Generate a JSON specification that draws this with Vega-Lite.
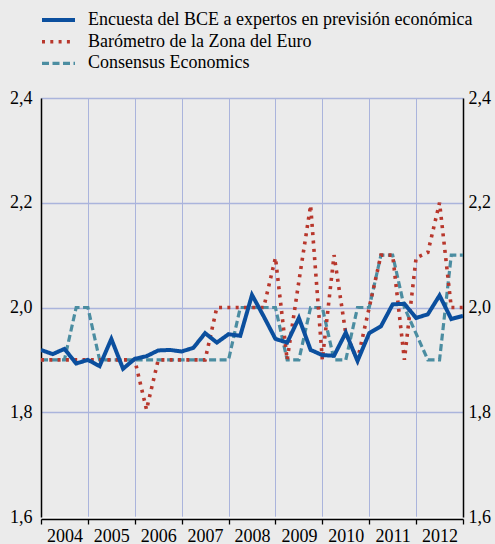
{
  "$schema": "https://vega.github.io/schema/vega-lite/v6.json",
  "width": 422,
  "height": 419,
  "autosize": {"type": "none"},
  "padding": {"left": 41, "top": 98, "right": 32, "bottom": 27},
  "background": "#ebebeb",
  "config": {
    "view": {"stroke": null, "fill": "#ebebeb"},
    "font": "Liberation Serif"
  },
  "data": {
    "values": [
      {"t": 2004.0, "bce": 1.919, "bar": 1.9, "con": 1.9},
      {"t": 2004.25, "bce": 1.911, "bar": 1.9, "con": 1.9},
      {"t": 2004.5, "bce": 1.921, "bar": 1.9, "con": 1.9},
      {"t": 2004.75, "bce": 1.893, "bar": 1.9, "con": 2.0},
      {"t": 2005.0, "bce": 1.900, "bar": 1.9, "con": 2.0},
      {"t": 2005.25, "bce": 1.888, "bar": 1.9, "con": 1.9},
      {"t": 2005.5, "bce": 1.940, "bar": 1.9, "con": 1.9},
      {"t": 2005.75, "bce": 1.883, "bar": 1.9, "con": 1.9},
      {"t": 2006.0, "bce": 1.902, "bar": 1.9, "con": 1.9},
      {"t": 2006.25, "bce": 1.907, "bar": 1.805, "con": 1.9},
      {"t": 2006.5, "bce": 1.918, "bar": 1.9, "con": 1.9},
      {"t": 2006.75, "bce": 1.919, "bar": 1.9, "con": 1.9},
      {"t": 2007.0, "bce": 1.916, "bar": 1.9, "con": 1.9},
      {"t": 2007.25, "bce": 1.923, "bar": 1.9, "con": 1.9},
      {"t": 2007.5, "bce": 1.951, "bar": 1.9, "con": 1.9},
      {"t": 2007.75, "bce": 1.933, "bar": 2.0, "con": 1.9},
      {"t": 2008.0, "bce": 1.949, "bar": 2.0, "con": 1.9},
      {"t": 2008.25, "bce": 1.946, "bar": 2.0, "con": 2.0},
      {"t": 2008.5, "bce": 2.024, "bar": 2.0, "con": 2.0},
      {"t": 2008.75, "bce": 1.983, "bar": 2.0, "con": 2.0},
      {"t": 2009.0, "bce": 1.940, "bar": 2.095, "con": 2.0},
      {"t": 2009.25, "bce": 1.933, "bar": 1.9, "con": 1.9},
      {"t": 2009.5, "bce": 1.980, "bar": 2.05, "con": 1.9},
      {"t": 2009.75, "bce": 1.919, "bar": 2.195, "con": 2.0},
      {"t": 2010.0, "bce": 1.909, "bar": 1.9, "con": 2.0},
      {"t": 2010.25, "bce": 1.908, "bar": 2.1, "con": 1.9},
      {"t": 2010.5, "bce": 1.952, "bar": 1.95, "con": 1.9},
      {"t": 2010.75, "bce": 1.898, "bar": 1.9, "con": 2.0},
      {"t": 2011.0, "bce": 1.951, "bar": 2.0, "con": 2.0},
      {"t": 2011.25, "bce": 1.964, "bar": 2.1, "con": 2.1},
      {"t": 2011.5, "bce": 2.006, "bar": 2.1, "con": 2.1},
      {"t": 2011.75, "bce": 2.007, "bar": 1.9, "con": 2.0},
      {"t": 2012.0, "bce": 1.980, "bar": 2.095, "con": 1.95},
      {"t": 2012.25, "bce": 1.987, "bar": 2.105, "con": 1.9},
      {"t": 2012.5, "bce": 2.023, "bar": 2.2, "con": 1.9},
      {"t": 2012.75, "bce": 1.978, "bar": 2.0, "con": 2.1},
      {"t": 2013.0, "bce": 1.984, "bar": 2.0, "con": 2.1}
    ]
  },
  "transform": [
    {"fold": ["con", "bar", "bce"], "as": ["serie", "valor"]}
  ],
  "encoding": {
    "x": {
      "field": "t",
      "type": "quantitative",
      "scale": {"domain": [2004, 2013], "nice": false, "zero": false},
      "axis": {
        "title": null,
        "values": [2004, 2004.5, 2005, 2005.5, 2006, 2006.5, 2007, 2007.5, 2008, 2008.5, 2009, 2009.5, 2010, 2010.5, 2011, 2011.5, 2012, 2012.5, 2013],
        "labelExpr": "datum.value % 1 == 0.5 ? '' + floor(datum.value) : ''",
        "grid": true,
        "gridColor": "#aab4dc",
        "gridWidth": 1,
        "gridOpacity": {"condition": {"test": "datum.value % 1 == 0", "value": 1}, "value": 0},
        "tickOpacity": {"condition": {"test": "datum.value % 1 == 0", "value": 1}, "value": 0},
        "tickColor": "#000000",
        "tickSize": 5,
        "tickWidth": 1.3,
        "domainColor": "#000000",
        "domainWidth": 1.5,
        "offset": 2,
        "labelPadding": 3,
        "labelFont": "Liberation Serif",
        "labelFontSize": 18,
        "labelColor": "#000000",
        "labelFlush": false,
        "labelOverlap": false,
        "labelBound": false
      }
    }
  },
  "layer": [
    {
      "mark": {"type": "line", "clip": true},
      "encoding": {
        "y": {
          "field": "valor",
          "type": "quantitative",
          "scale": {"domain": [1.6, 2.4], "nice": false, "zero": false},
          "axis": {
            "orient": "left",
            "title": null,
            "values": [1.6, 1.8, 2.0, 2.2, 2.4],
            "labelExpr": "replace(format(datum.value, '.1f'), '.', ',')",
            "ticks": false,
            "tickSize": 0,
            "labelPadding": 9,
            "domainColor": "#000000",
            "domainWidth": 1.5,
            "grid": true,
            "gridColor": {"condition": {"test": "datum.value == 1.6", "value": "#f7f7f7"}, "value": "#aab4dc"},
            "gridWidth": 1.3,
            "labelFont": "Liberation Serif",
            "labelFontSize": 18,
            "labelColor": "#000000"
          }
        },
        "color": {
          "field": "serie",
          "type": "nominal",
          "scale": {
            "domain": ["bce", "bar", "con"],
            "range": ["#0b4f9e", "#b8372c", "#4b8da1"]
          },
          "legend": {
            "orient": "none",
            "legendX": -1,
            "legendY": -87,
            "title": null,
            "padding": 0,
            "symbolType": "stroke",
            "symbolSize": 1089,
            "symbolStrokeWidth": 4,
            "clipHeight": 18,
            "labelOffset": 11,
            "rowPadding": 3.7,
            "labelFont": "Liberation Serif",
            "labelFontSize": 18,
            "labelColor": "#000000",
            "labelLimit": 460,
            "labelExpr": "datum.value == 'bce' ? 'Encuesta del BCE a expertos en previsión económica' : datum.value == 'bar' ? 'Barómetro de la Zona del Euro' : 'Consensus Economics'"
          }
        },
        "strokeDash": {
          "field": "serie",
          "type": "nominal",
          "scale": {
            "domain": ["bce", "bar", "con"],
            "range": [[1, 0], [3, 5.3], [7, 3.5]]
          }
        },
        "strokeWidth": {
          "field": "serie",
          "type": "nominal",
          "scale": {"domain": ["bce", "bar", "con"], "range": [4, 3.2, 4]},
          "legend": null
        }
      }
    },
    {
      "mark": {"type": "line", "opacity": 0},
      "encoding": {
        "detail": {"field": "serie", "type": "nominal"},
        "y": {
          "field": "valor",
          "type": "quantitative",
          "axis": {
            "orient": "right",
            "title": null,
            "values": [1.6, 1.8, 2.0, 2.2, 2.4],
            "labelExpr": "replace(format(datum.value, '.1f'), '.', ',')",
            "ticks": false,
            "tickSize": 0,
            "labelPadding": 5,
            "domainColor": "#000000",
            "domainWidth": 1.5,
            "grid": false,
            "labelFont": "Liberation Serif",
            "labelFontSize": 18,
            "labelColor": "#000000"
          }
        }
      }
    }
  ],
  "resolve": {"axis": {"y": "independent"}}
}
